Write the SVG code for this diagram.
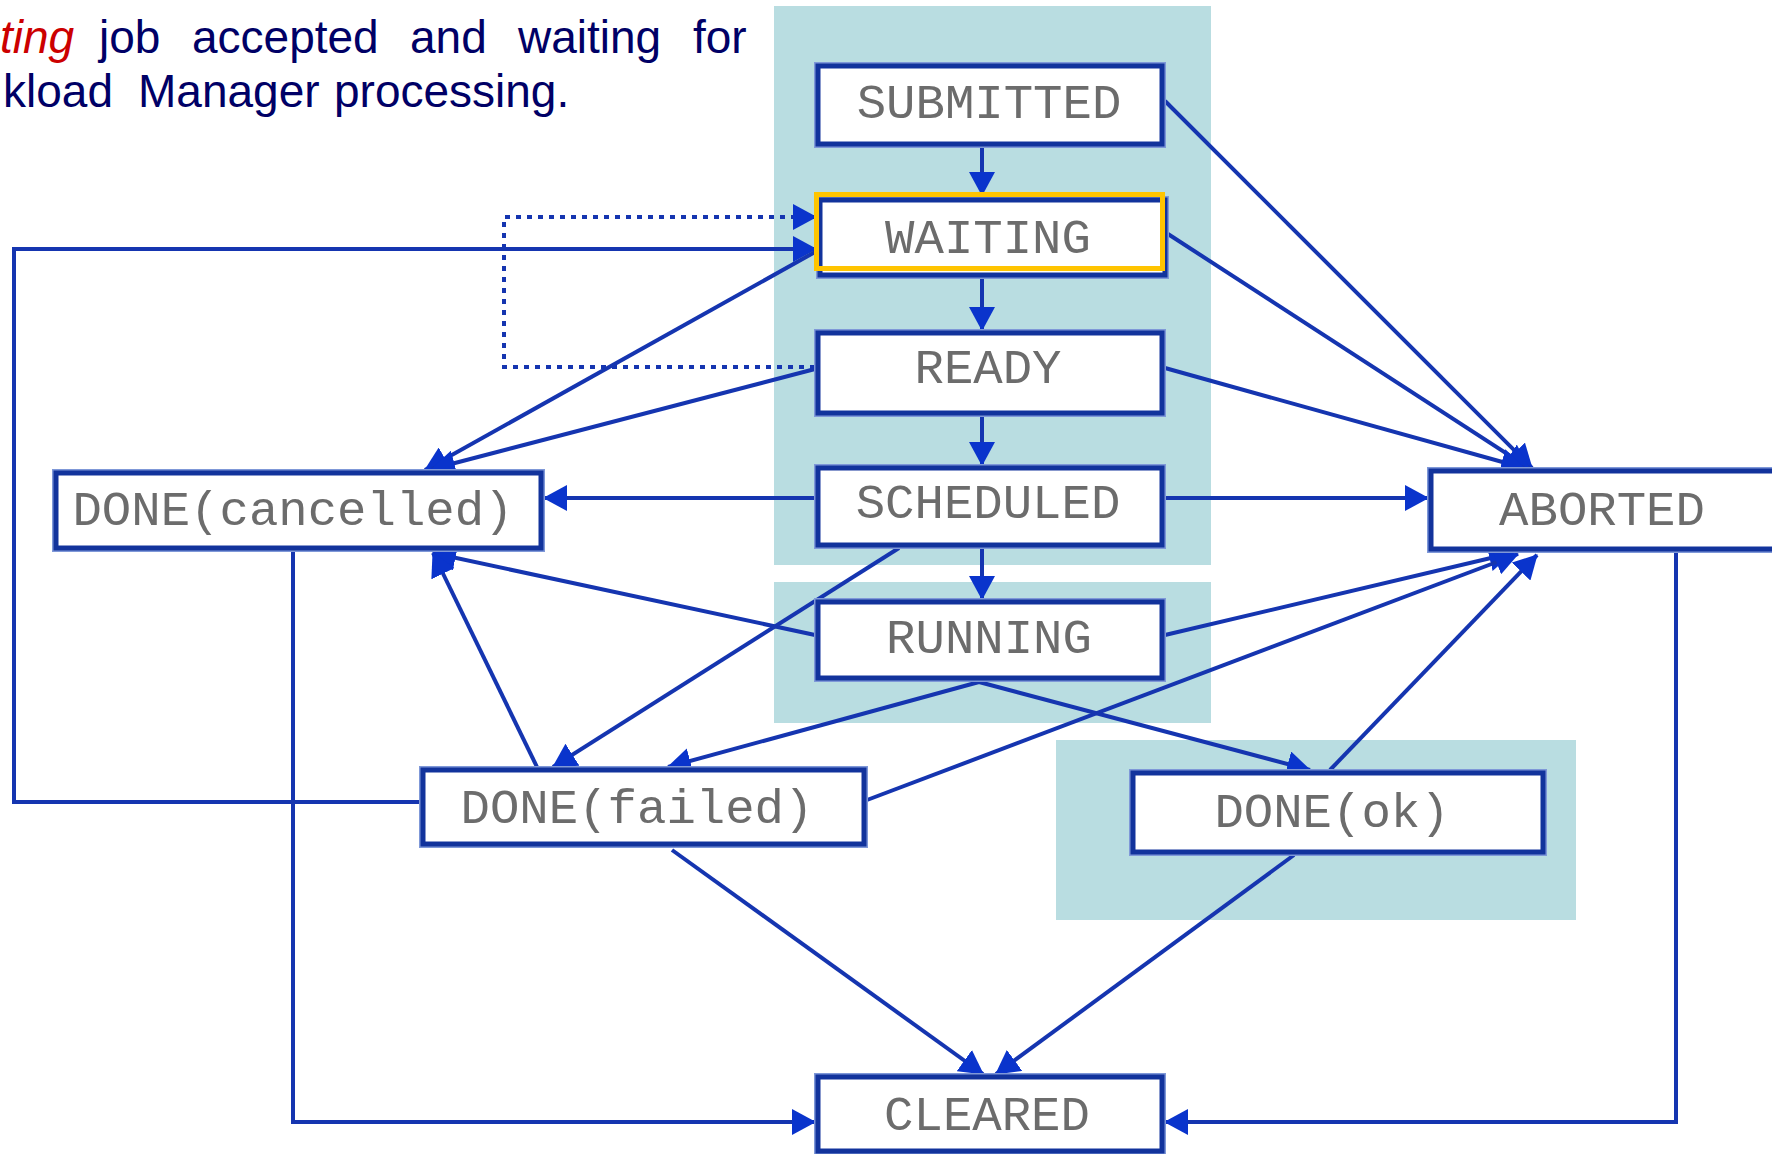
<svg xmlns="http://www.w3.org/2000/svg" width="1772" height="1154" viewBox="0 0 1772 1154">
  <style>
    .bg { fill: #b9dde1; }
    .halo { fill: none; stroke: #7f98d8; stroke-width: 8; }
    .box { fill: #ffffff; stroke: #12339c; stroke-width: 5; }
    .sel { fill: none; stroke: #ffc400; stroke-width: 5; }
    .lbl { font-family: "Liberation Mono", "DejaVu Sans Mono", monospace; font-size: 49px; fill: #6c6c6c; text-anchor: middle; }
    .edge { fill: none; stroke: #1535b0; stroke-width: 4; marker-end: url(#arrow); }
    .plain { fill: none; stroke: #1535b0; stroke-width: 4; }
    .dotted { stroke-dasharray: 5 6; }
    .note { font-family: "Liberation Sans", Arial, sans-serif; font-size: 46px; fill: #000066; }
    .em { fill: #cc0000; font-style: italic; }
  </style>
  <defs>
    <marker id="arrow" markerUnits="userSpaceOnUse" viewBox="0 0 24 26" markerWidth="24" markerHeight="26" refX="23" refY="13" orient="auto">
      <path d="M0,0 L24,13 L0,26 z" fill="#0a34cc"/>
    </marker>
  </defs>

  <rect width="1772" height="1154" fill="#ffffff"/>

  <!-- shaded state areas -->
  <rect class="bg" x="774" y="6" width="437" height="559"/>
  <rect class="bg" x="774" y="582" width="437" height="141"/>
  <rect class="bg" x="1056" y="740" width="520" height="180"/>

  <!-- description text -->
  <text class="note" y="53"><tspan class="em" x="0">ting</tspan><tspan x="99">job</tspan><tspan x="192">accepted</tspan><tspan x="410">and</tspan><tspan x="518">waiting</tspan><tspan x="693">for</tspan></text>
  <text class="note" y="107"><tspan x="3">kload</tspan><tspan x="138">Manager</tspan><tspan x="334">processing.</tspan></text>

  <!-- connectors -->
  <g id="connectors">
    <path class="edge" d="M982,147 V195"/>
    <path class="edge" d="M982,278 V330"/>
    <path class="edge" d="M982,416 V465"/>
    <path class="edge" d="M982,548 V599"/>
    <path class="edge" d="M1165,101 L1532,468"/>
    <path class="edge" d="M1168,234 L1529,468"/>
    <path class="edge" d="M1165,368 L1524,468"/>
    <path class="edge" d="M1165,498 H1428"/>
    <path class="edge" d="M1165,635 L1512,553"/>
    <path class="edge" d="M867,800 L1518,554"/>
    <path class="edge" d="M1330,770 L1537,555"/>
    <path class="edge" d="M1676,552 V1122 H1165"/>
    <path class="edge" d="M293,551 V1122 H815"/>
    <path class="edge" d="M420,802 H14 V249 H816"/>
    <path class="edge dotted" d="M815,367 H504 V217 H816"/>
    <path class="edge" d="M815,252 L425,470"/>
    <path class="edge" d="M815,369 L432,469"/>
    <path class="edge" d="M815,498 H544"/>
    <path class="edge" d="M815,635 L433,553"/>
    <path class="edge" d="M537,767 L433,553"/>
    <path class="edge" d="M899,548 L553,767"/>
    <path class="edge" d="M979,682 L668,767"/>
    <path class="edge" d="M979,682 L1310,770"/>
    <path class="edge" d="M672,850 L983,1074"/>
    <path class="edge" d="M1294,855 L996,1074"/>
  </g>

  <!-- states -->
  <g id="submitted">
    <rect class="halo" x="818" y="66" width="344" height="78"/>
    <rect class="box" x="818" y="66" width="344" height="78"/>
    <text class="lbl" x="989" y="118">SUBMITTED</text>
  </g>
  <g id="waiting">
    <rect class="halo" x="820" y="200" width="345" height="75"/>
    <rect class="box" x="820" y="200" width="345" height="75"/>
    <rect class="sel" x="816.5" y="194.5" width="346" height="74"/>
    <text class="lbl" x="988" y="253">WAITING</text>
  </g>
  <g id="ready">
    <rect class="halo" x="818" y="333" width="344" height="80"/>
    <rect class="box" x="818" y="333" width="344" height="80"/>
    <text class="lbl" x="988" y="383">READY</text>
  </g>
  <g id="scheduled">
    <rect class="halo" x="818" y="468" width="344" height="77"/>
    <rect class="box" x="818" y="468" width="344" height="77"/>
    <text class="lbl" x="988" y="518">SCHEDULED</text>
  </g>
  <g id="running">
    <rect class="halo" x="818" y="602" width="344" height="76"/>
    <rect class="box" x="818" y="602" width="344" height="76"/>
    <text class="lbl" x="989" y="653">RUNNING</text>
  </g>
  <g id="aborted">
    <rect class="halo" x="1431" y="471" width="380" height="78"/>
    <rect class="box" x="1431" y="471" width="380" height="78"/>
    <text class="lbl" x="1602" y="525">ABORTED</text>
  </g>
  <g id="done-cancelled">
    <rect class="halo" x="56" y="473" width="485" height="75"/>
    <rect class="box" x="56" y="473" width="485" height="75"/>
    <text class="lbl" x="293" y="525">DONE(cancelled)</text>
  </g>
  <g id="done-failed">
    <rect class="halo" x="423" y="770" width="441" height="74"/>
    <rect class="box" x="423" y="770" width="441" height="74"/>
    <text class="lbl" x="637" y="823">DONE(failed)</text>
  </g>
  <g id="done-ok">
    <rect class="halo" x="1133" y="773" width="410" height="79"/>
    <rect class="box" x="1133" y="773" width="410" height="79"/>
    <text class="lbl" x="1332" y="827">DONE(ok)</text>
  </g>
  <g id="cleared">
    <rect class="halo" x="818" y="1077" width="344" height="74"/>
    <rect class="box" x="818" y="1077" width="344" height="74"/>
    <text class="lbl" x="987" y="1130">CLEARED</text>
  </g>
</svg>
